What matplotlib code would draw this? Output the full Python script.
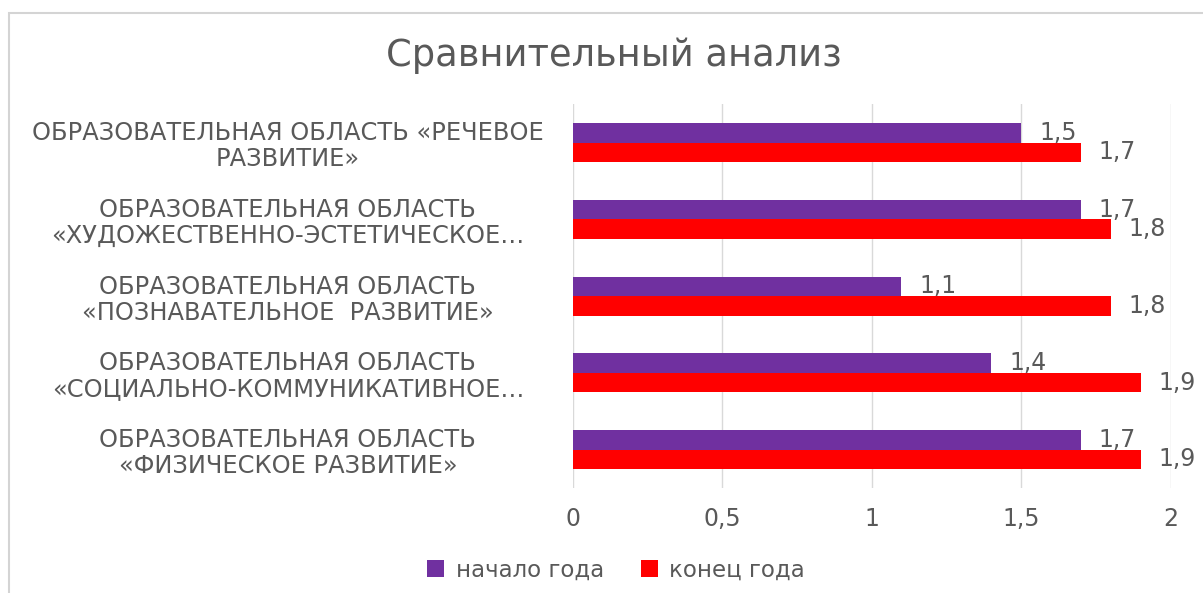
import matplotlib
matplotlib.use('Agg')
import matplotlib.pyplot as plt
import numpy as np
from matplotlib.patches import Rectangle

plt.rcParams['font.family'] = ['DejaVu Sans']

# данные (сверху вниз)
categories = [
    'ОБРАЗОВАТЕЛЬНАЯ ОБЛАСТЬ «РЕЧЕВОЕ\nРАЗВИТИЕ»',
    'ОБРАЗОВАТЕЛЬНАЯ ОБЛАСТЬ\n«ХУДОЖЕСТВЕННО-ЭСТЕТИЧЕСКОЕ…',
    'ОБРАЗОВАТЕЛЬНАЯ ОБЛАСТЬ\n«ПОЗНАВАТЕЛЬНОЕ  РАЗВИТИЕ»',
    'ОБРАЗОВАТЕЛЬНАЯ ОБЛАСТЬ\n«СОЦИАЛЬНО-КОММУНИКАТИВНОЕ…',
    'ОБРАЗОВАТЕЛЬНАЯ ОБЛАСТЬ\n«ФИЗИЧЕСКОЕ РАЗВИТИЕ»',
]
start_year = [1.5, 1.7, 1.1, 1.4, 1.7]
end_year = [1.7, 1.8, 1.8, 1.9, 1.9]
series_names = ['начало года', 'конец года']
x_ticks = [0, 0.5, 1, 1.5, 2]
x_ticklabels = ['0', '0,5', '1', '1,5', '2']

C_PURPLE = '#7030A0'
C_RED = '#FF0000'
C_TEXT = '#595959'
C_GRID = '#D9D9D9'

fig = plt.figure(figsize=(12.03, 5.93), dpi=100)
fig.patch.set_facecolor('white')

# рамка диаграммы (правый и нижний край за пределами картинки)
fig.add_artist(Rectangle((0.0075, -0.05), 1.1, 1.028, transform=fig.transFigure,
                         fill=False, edgecolor='#D4D4D4', lw=1.5))

ax = fig.add_axes([0.476, 0.177, 0.497, 0.647])

y = np.arange(len(categories))
h = 0.254
ax.barh(y - h / 2, start_year, height=h, color=C_PURPLE, label=series_names[0], zorder=3)
ax.barh(y + h / 2, end_year, height=h, color=C_RED, label=series_names[1], zorder=3)

for yi, v in zip(y, start_year):
    ax.text(v + 0.06, yi - h / 2, f'{v:.1f}'.replace('.', ','), va='center', ha='left',
            fontsize=17, color=C_TEXT, zorder=4)
for yi, v in zip(y, end_year):
    ax.text(v + 0.06, yi + h / 2, f'{v:.1f}'.replace('.', ','), va='center', ha='left',
            fontsize=17, color=C_TEXT, zorder=4)

ax.set_xlim(0, 2)
ax.set_ylim(len(categories) - 0.5, -0.5)
ax.set_xticks(x_ticks)
ax.set_xticklabels(x_ticklabels)
ax.set_yticks(y)
ax.set_yticklabels(categories, ha='center', linespacing=1.1)
ax.tick_params(axis='y', length=0, pad=205, labelsize=17.4, labelcolor=C_TEXT)
ax.tick_params(axis='x', length=0, pad=14, labelsize=17, labelcolor=C_TEXT)
ax.grid(axis='x', color=C_GRID, lw=1, zorder=0)
for s in ax.spines.values():
    s.set_visible(False)

fig.text(0.51, 0.907, 'Сравнительный анализ', ha='center', va='center',
         fontsize=26.5, color=C_TEXT)

fig.legend(loc='center', bbox_to_anchor=(0.512, 0.039), ncol=2, frameon=False,
           fontsize=16.5, labelcolor=C_TEXT, handlelength=0.75, handleheight=0.75,
           handletextpad=0.5, columnspacing=1.6)

fig.savefig('out.png', dpi=100, facecolor='white')
